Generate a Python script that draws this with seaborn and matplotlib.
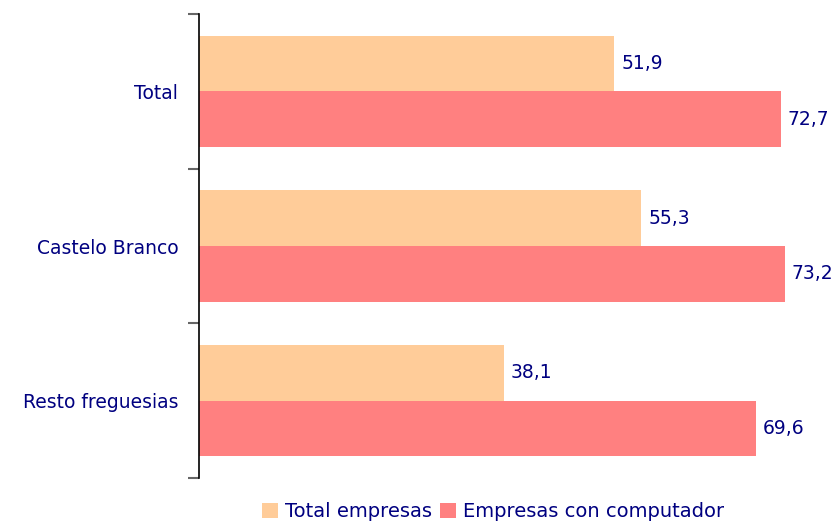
import pandas as pd
import seaborn as sns
import matplotlib.pyplot as plt

# values
categories = ['Total', 'Castelo Branco', 'Resto freguesias']
series = ['Total empresas', 'Empresas con computador']
total_empresas = [51.9, 55.3, 38.1]
con_computador = [72.7, 73.2, 69.6]

df = pd.DataFrame({
    'zona': categories * 2,
    'serie': [series[0]] * 3 + [series[1]] * 3,
    'valor': total_empresas + con_computador,
})

sns.set_style('white')
plt.rcParams['font.family'] = ['DejaVu Sans']
navy = '#000080'

fig = plt.figure(figsize=(8.39, 5.31), dpi=100)
ax = fig.add_axes([199 / 839, 1 - 478 / 531, 1 - 199 / 839, (478 - 14) / 531])

sns.barplot(data=df, x='valor', y='zona', hue='serie', orient='h',
            palette=['#FFCC99', '#FF8080'], width=0.72, saturation=1,
            linewidth=0, ax=ax, legend=True)

for cont in ax.containers:
    ax.bar_label(cont, labels=[f'{v:.1f}'.replace('.', ',') for v in cont.datavalues],
                 padding=5, fontsize=13.5, color=navy)

ax.set_xlim(0, 80)
ax.set_ylim(2.5, -0.5)
ax.set_xlabel('')
ax.set_ylabel('')
ax.set_xticks([])
ax.set_yticks([0, 1, 2])
ax.set_yticklabels(categories, fontsize=13.5, color=navy)
ax.tick_params(axis='y', which='major', left=False, length=0, pad=15)
ax.set_yticks([-0.5, 0.5, 1.5, 2.5], minor=True)
ax.tick_params(axis='y', which='minor', left=True, length=8, width=1.5,
               color='#666666', direction='out')

for s in ['top', 'right', 'bottom']:
    ax.spines[s].set_visible(False)
ax.spines['left'].set_color('black')
ax.spines['left'].set_linewidth(1.2)

handles, labels = ax.get_legend_handles_labels()
ax.get_legend().remove()
fig.legend(handles, labels, loc='lower center', bbox_to_anchor=(493 / 839, -0.015),
           ncol=2, frameon=False, fontsize=14, handlelength=0.85, handleheight=0.85,
           handletextpad=0.35, columnspacing=0.4, labelcolor=navy)

fig.savefig('out.png', dpi=100)
